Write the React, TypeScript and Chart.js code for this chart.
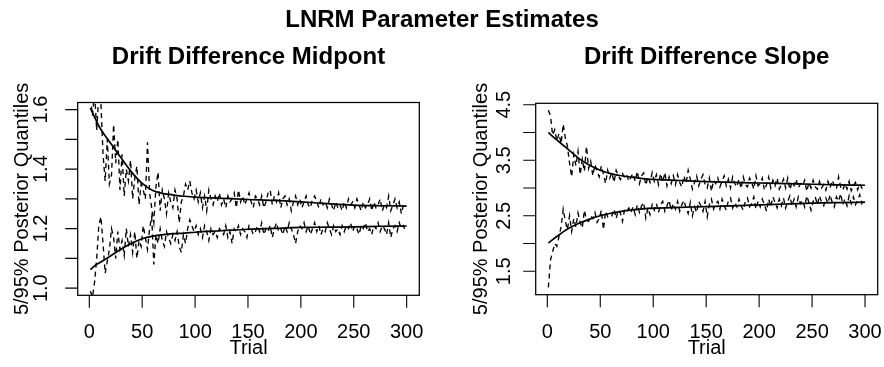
import { useEffect, useRef } from "react";
import { Chart, registerables } from "chart.js";

Chart.register(...registerables);

// ---------- data ----------
const MAIN_TITLE = "LNRM Parameter Estimates";
const MID_TITLE = "Drift Difference Midpont";
const SLOPE_TITLE = "Drift Difference Slope";
const X_TITLE = "Trial";
const Y_TITLE = "5/95% Posterior Quantiles";

const TRIALS = [
  1, 3, 5, 7, 9, 11, 13, 15, 17, 19,
  21, 23, 25, 27, 29, 31, 33, 35, 37, 39,
  41, 43, 45, 47, 49, 51, 53, 55, 57, 59,
  61, 63, 65, 67, 69, 71, 73, 75, 77, 79,
  81, 83, 85, 87, 89, 91, 93, 95, 97, 99,
  101, 103, 105, 107, 109, 111, 113, 115, 117, 119,
  121, 123, 125, 127, 129, 131, 133, 135, 137, 139,
  141, 143, 145, 147, 149, 151, 153, 155, 157, 159,
  161, 163, 165, 167, 169, 171, 173, 175, 177, 179,
  181, 183, 185, 187, 189, 191, 193, 195, 197, 199,
  201, 203, 205, 207, 209, 211, 213, 215, 217, 219,
  221, 223, 225, 227, 229, 231, 233, 235, 237, 239,
  241, 243, 245, 247, 249, 251, 253, 255, 257, 259,
  261, 263, 265, 267, 269, 271, 273, 275, 277, 279,
  281, 283, 285, 287, 289, 291, 293, 295, 297, 299,
];

// Drift Difference Midpont: 95% quantile
const MID_HI = [
  1.64, 1.58, 1.66, 1.53, 1.65, 1.62, 1.45, 1.36, 1.50, 1.35,
  1.38, 1.55, 1.42, 1.50, 1.33, 1.45, 1.31, 1.40, 1.36, 1.43,
  1.30, 1.37, 1.41, 1.28, 1.35, 1.33, 1.30, 1.49, 1.32, 1.27,
  1.22, 1.34, 1.39, 1.26, 1.33, 1.30, 1.25, 1.32, 1.29, 1.27,
  1.33, 1.30, 1.22, 1.29, 1.31, 1.35, 1.33, 1.36, 1.32, 1.30,
  1.33, 1.29, 1.32, 1.27, 1.31, 1.26, 1.33, 1.30, 1.28, 1.31,
  1.29, 1.32, 1.28, 1.30, 1.27, 1.31, 1.29, 1.30, 1.32, 1.27,
  1.33, 1.29, 1.31, 1.28, 1.30, 1.32, 1.29, 1.27, 1.31, 1.30,
  1.28, 1.31, 1.27, 1.29, 1.32, 1.33, 1.28, 1.31, 1.29, 1.32,
  1.27, 1.30, 1.31, 1.28, 1.30, 1.26, 1.29, 1.31, 1.28, 1.30,
  1.27, 1.29, 1.31, 1.28, 1.27, 1.30, 1.31, 1.29, 1.27, 1.30,
  1.28, 1.29, 1.27, 1.30, 1.28, 1.26, 1.29, 1.27, 1.28, 1.26,
  1.29, 1.27, 1.30, 1.28, 1.29, 1.27, 1.30, 1.28, 1.26, 1.29,
  1.27, 1.28, 1.30, 1.26, 1.29, 1.27, 1.28, 1.30, 1.26, 1.28,
  1.27, 1.31, 1.26, 1.28, 1.30, 1.27, 1.29, 1.25, 1.28, 1.27,
];

// Drift Difference Midpont: 5% quantile
const MID_LO = [
  0.99, 0.97, 1.02, 1.10, 1.21, 1.24, 1.15, 1.05, 1.09, 1.13,
  1.20, 1.17, 1.10, 1.19, 1.13, 1.16, 1.11, 1.20, 1.14, 1.18,
  1.12, 1.19, 1.10, 1.16, 1.14, 1.21, 1.17, 1.13, 1.20, 1.24,
  1.08, 1.18, 1.15, 1.20, 1.16, 1.14, 1.19, 1.17, 1.15, 1.18,
  1.16, 1.19, 1.14, 1.12, 1.18, 1.15, 1.20, 1.23, 1.21, 1.19,
  1.21, 1.18, 1.20, 1.17, 1.21, 1.19, 1.16, 1.20, 1.18, 1.19,
  1.17, 1.20, 1.19, 1.18, 1.21, 1.17, 1.19, 1.15, 1.20, 1.19,
  1.21, 1.18, 1.20, 1.19, 1.17, 1.21, 1.20, 1.18, 1.19, 1.21,
  1.19, 1.22, 1.18, 1.20, 1.19, 1.21, 1.17, 1.20, 1.22, 1.19,
  1.20, 1.18, 1.21, 1.19, 1.22, 1.20, 1.18, 1.15, 1.19, 1.21,
  1.20, 1.22, 1.19, 1.21, 1.18, 1.20, 1.22, 1.19, 1.21, 1.18,
  1.20, 1.19, 1.22, 1.20, 1.18, 1.21, 1.19, 1.20, 1.18, 1.21,
  1.19, 1.21, 1.20, 1.22, 1.19, 1.21, 1.20, 1.18, 1.21, 1.20,
  1.22, 1.19, 1.20, 1.18, 1.21, 1.20, 1.22, 1.19, 1.21, 1.20,
  1.18, 1.22, 1.17, 1.20, 1.21, 1.19, 1.22, 1.20, 1.21, 1.19,
];

// Drift Difference Slope: 95% quantile
const SLOPE_HI = [
  4.40, 4.30, 3.95, 4.05, 3.85, 3.98, 3.80, 4.15, 3.90, 3.75,
  3.45, 3.20, 3.60, 3.40, 3.66, 3.24, 3.52, 3.30, 3.75, 3.35,
  3.48, 3.22, 3.42, 3.30, 3.20, 3.40, 3.25, 3.08, 3.32, 3.18,
  3.28, 3.10, 3.32, 3.22, 3.15, 3.26, 3.19, 3.24, 3.12, 3.20,
  3.26, 3.12, 3.30, 3.08, 3.22, 3.27, 3.05, 3.20, 3.10, 3.28,
  3.12, 3.24, 3.06, 3.26, 3.10, 3.28, 3.04, 3.20, 3.08, 3.22,
  3.06, 3.24, 3.10, 3.02, 3.22, 3.08, 3.32, 3.16, 2.98, 3.10,
  3.22, 3.04, 3.16, 3.24, 3.06, 3.00, 3.18, 2.94, 3.14, 3.08,
  3.18, 3.02, 3.12, 3.22, 3.04, 3.16, 3.00, 3.20, 3.08, 3.02,
  3.16, 2.99, 3.20, 3.06, 3.02, 3.18, 3.10, 2.98, 3.22, 3.04,
  3.08, 3.18, 2.96, 3.06, 3.20, 3.00, 3.14, 3.04, 3.18, 2.98,
  3.06, 3.16, 3.00, 3.18, 2.97, 3.10, 3.04, 3.16, 3.00, 3.08,
  3.04, 3.14, 2.94, 3.10, 3.00, 3.14, 3.02, 2.98, 3.12, 3.00,
  3.06, 2.96, 3.12, 3.00, 3.14, 3.04, 2.98, 3.20, 3.02, 2.96,
  3.08, 2.98, 3.12, 2.95, 3.04, 3.10, 2.97, 3.08, 3.00, 3.06,
];

// Drift Difference Slope: 5% quantile
const SLOPE_LO = [
  1.21, 1.70, 1.85, 2.00, 1.95, 2.12, 2.30, 2.62, 2.40, 2.25,
  2.50, 2.22, 2.45, 2.30, 2.55, 2.38, 2.28, 2.60, 2.42, 2.40,
  2.50, 2.45, 2.56, 2.38, 2.45, 2.60, 2.25, 2.58, 2.48, 2.52,
  2.50, 2.62, 2.45, 2.60, 2.55, 2.40, 2.62, 2.58, 2.64, 2.56,
  2.66, 2.52, 2.70, 2.56, 2.68, 2.74, 2.46, 2.64, 2.52, 2.70,
  2.60, 2.72, 2.56, 2.70, 2.76, 2.58, 2.68, 2.78, 2.60, 2.72,
  2.62, 2.76, 2.58, 2.70, 2.78, 2.64, 2.54, 2.74, 2.50, 2.66,
  2.56, 2.76, 2.68, 2.58, 2.76, 2.48, 2.70, 2.80, 2.62, 2.72,
  2.76, 2.62, 2.80, 2.68, 2.60, 2.78, 2.82, 2.64, 2.74, 2.66,
  2.80, 2.68, 2.60, 2.76, 2.82, 2.66, 2.72, 2.84, 2.62, 2.76,
  2.66, 2.80, 2.70, 2.58, 2.80, 2.66, 2.84, 2.74, 2.64, 2.80,
  2.68, 2.82, 2.64, 2.76, 2.86, 2.68, 2.80, 2.66, 2.84, 2.72,
  2.78, 2.66, 2.86, 2.74, 2.60, 2.76, 2.84, 2.70, 2.86, 2.74,
  2.68, 2.82, 2.72, 2.88, 2.74, 2.66, 2.84, 2.76, 2.90, 2.70,
  2.80, 2.68, 2.86, 2.72, 2.84, 2.70, 2.78, 2.88, 2.72, 2.80,
];

// smooth fitted curves
const FIT_TRIALS = [1, 5, 10, 15, 20, 25, 30, 40, 50, 60, 70, 80, 90, 100, 125, 150, 175, 200, 225, 250, 275, 300];
const MID_FIT_HI = [1.605, 1.575, 1.539, 1.512, 1.488, 1.463, 1.438, 1.39, 1.352, 1.328, 1.318, 1.313, 1.309, 1.306, 1.302, 1.298, 1.295, 1.29, 1.284, 1.279, 1.277, 1.276];
const MID_FIT_LO = [1.062, 1.075, 1.086, 1.097, 1.108, 1.12, 1.131, 1.151, 1.166, 1.175, 1.18, 1.183, 1.185, 1.188, 1.193, 1.198, 1.201, 1.204, 1.205, 1.206, 1.208, 1.209];
const SLOPE_FIT_HI = [4.0, 3.93, 3.85, 3.77, 3.69, 3.61, 3.53, 3.41, 3.32, 3.26, 3.22, 3.195, 3.17, 3.155, 3.135, 3.115, 3.1, 3.09, 3.08, 3.068, 3.058, 3.05];
const SLOPE_FIT_LO = [2.01, 2.07, 2.14, 2.21, 2.27, 2.32, 2.365, 2.44, 2.5, 2.545, 2.58, 2.605, 2.625, 2.638, 2.652, 2.665, 2.68, 2.696, 2.712, 2.727, 2.737, 2.745];

// axes
const X_TICKS = [0, 50, 100, 150, 200, 250, 300];
const MID_Y_TICKS = [1.0, 1.1, 1.2, 1.3, 1.4, 1.5, 1.6];
const MID_Y_LABELS = [1.0, 1.2, 1.4, 1.6];
const SLOPE_Y_TICKS = [1.5, 2.0, 2.5, 3.0, 3.5, 4.0, 4.5];
const SLOPE_Y_LABELS = [1.5, 2.5, 3.5, 4.5];

// ---------- layout ----------
const W = 884;
const H = 367;
const X_MIN = -10.96;
const X_MAX = 311.96;
const FONT = '"Liberation Sans", Arial, Helvetica, sans-serif';

type Area = { left: number; right: number; top: number; bottom: number };
type PanelCfg = {
  id: string;
  title: string;
  mainTitle?: string;
  hi: number[];
  lo: number[];
  fitHi: number[];
  fitLo: number[];
  yMin: number;
  yMax: number;
  yTicks: number[];
  yLabels: number[];
  area: Area;
  yLabelBaseX: number;
  yTitleBaseX: number;
};

const PANELS: PanelCfg[] = [
  {
    id: "mid",
    title: MID_TITLE,
    mainTitle: MAIN_TITLE,
    hi: MID_HI,
    lo: MID_LO,
    fitHi: MID_FIT_HI,
    fitLo: MID_FIT_LO,
    yMin: 0.976,
    yMax: 1.624,
    yTicks: MID_Y_TICKS,
    yLabels: MID_Y_LABELS,
    area: { left: 77.7, right: 419.3, top: 102.5, bottom: 295.3 },
    yLabelBaseX: 47,
    yTitleBaseX: 28,
  },
  {
    id: "slope",
    title: SLOPE_TITLE,
    hi: SLOPE_HI,
    lo: SLOPE_LO,
    fitHi: SLOPE_FIT_HI,
    fitLo: SLOPE_FIT_LO,
    yMin: 1.079,
    yMax: 4.525,
    yTicks: SLOPE_Y_TICKS,
    yLabels: SLOPE_Y_LABELS,
    area: { left: 535.7, right: 877.7, top: 103.3, bottom: 294.7 },
    yLabelBaseX: 510,
    yTitleBaseX: 487,
  },
];

function axesPlugin(cfg: PanelCfg) {
  return {
    id: "rAxes_" + cfg.id,
    afterDraw(chart: any) {
      const { ctx, chartArea: a } = chart;
      const xs = chart.scales.x;
      const ys = chart.scales.y;
      ctx.save();
      ctx.strokeStyle = "#000";
      ctx.fillStyle = "#000";
      // box
      ctx.lineWidth = 1.25;
      ctx.strokeRect(a.left, a.top, a.right - a.left, a.bottom - a.top);
      // x ticks
      ctx.lineWidth = 1.1;
      ctx.beginPath();
      for (const t of X_TICKS) {
        const px = xs.getPixelForValue(t);
        ctx.moveTo(px, a.bottom);
        ctx.lineTo(px, a.bottom + 12.5);
      }
      // y ticks
      for (const v of cfg.yTicks) {
        const py = ys.getPixelForValue(v);
        ctx.moveTo(a.left - 12.5, py);
        ctx.lineTo(a.left, py);
      }
      ctx.stroke();
      // x labels
      ctx.font = "20px " + FONT;
      ctx.textAlign = "center";
      ctx.textBaseline = "alphabetic";
      for (const t of X_TICKS) {
        ctx.fillText(String(t), xs.getPixelForValue(t), 337.5);
      }
      const cx = (a.left + a.right) / 2;
      ctx.fillText(X_TITLE, cx, 353.5);
      // y labels (rotated)
      for (const v of cfg.yLabels) {
        const py = ys.getPixelForValue(v);
        ctx.save();
        ctx.translate(cfg.yLabelBaseX, py);
        ctx.rotate(-Math.PI / 2);
        ctx.fillText(v.toFixed(1), 0, 0);
        ctx.restore();
      }
      const cy = (a.top + a.bottom) / 2;
      ctx.save();
      ctx.translate(cfg.yTitleBaseX, cy);
      ctx.rotate(-Math.PI / 2);
      ctx.fillText(Y_TITLE, 0, 0);
      ctx.restore();
      // titles
      ctx.font = "bold 24px " + FONT;
      ctx.fillText(cfg.title, cx, 64);
      if (cfg.mainTitle) ctx.fillText(cfg.mainTitle, W / 2, 27);
      ctx.restore();
    },
  };
}

function pts(xs: number[], ys: number[]) {
  return xs.map((x, i) => ({ x, y: ys[i] }));
}

function Panel({ cfg }: { cfg: PanelCfg }) {
  const ref = useRef<HTMLCanvasElement>(null);
  useEffect(() => {
    const canvas = ref.current;
    if (!canvas) return;
    const a = cfg.area;
    const noisy = {
      borderColor: "#000",
      borderWidth: 1.35,
      borderDash: [5, 4],
      pointRadius: 0,
      tension: 0,
      fill: false,
    };
    const smooth = {
      borderColor: "#000",
      borderWidth: 1.7,
      pointRadius: 0,
      cubicInterpolationMode: "monotone",
      fill: false,
    };
    const chart = new Chart(canvas, {
      type: "line",
      data: {
        datasets: [
          { ...noisy, data: pts(TRIALS, cfg.hi) },
          { ...noisy, data: pts(TRIALS, cfg.lo) },
          { ...smooth, data: pts(FIT_TRIALS, cfg.fitHi) },
          { ...smooth, data: pts(FIT_TRIALS, cfg.fitLo) },
        ] as any,
      },
      options: {
        responsive: false,
        animation: false,
        devicePixelRatio: 1,
        events: [],
        layout: {
          padding: { left: a.left, right: W - a.right, top: a.top, bottom: H - a.bottom },
        },
        scales: {
          x: { type: "linear", min: X_MIN, max: X_MAX, display: false },
          y: { type: "linear", min: cfg.yMin, max: cfg.yMax, display: false },
        },
        plugins: {
          legend: { display: false },
          tooltip: { enabled: false },
          title: { display: false },
        },
      } as any,
      plugins: [axesPlugin(cfg)],
    });
    return () => chart.destroy();
  }, [cfg]);
  return (
    <canvas
      ref={ref}
      width={W}
      height={H}
      style={{ position: "absolute", left: 0, top: 0, width: W, height: H, display: "block" }}
    />
  );
}

export default function App() {
  return (
    <div style={{ position: "absolute", left: 0, top: 0, width: W, height: H, background: "#fff" }}>
      {PANELS.map((p) => (
        <Panel key={p.id} cfg={p} />
      ))}
    </div>
  );
}
